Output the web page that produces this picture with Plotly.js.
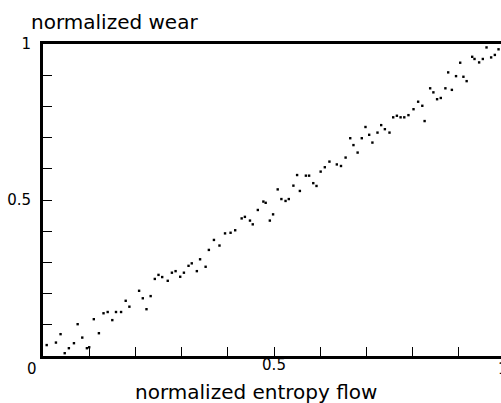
<!DOCTYPE html>
<html>
<head>
<meta charset="utf-8">
<script src="https://cdn.plot.ly/plotly-3.0.1.min.js"></script>
<style>html,body{margin:0;padding:0;background:#fff;}</style>
</head>
<body>
<div id="chart" style="width:501px;height:403px;"></div>
<script>
const entropyFlow = [0.008,0.028,0.038,0.047,0.056,0.067,0.075,0.085,0.095,0.100,0.110,0.121,0.131,0.140,0.150,0.158,0.169,0.179,0.187,0.208,0.216,0.224,0.233,0.242,0.250,0.258,0.270,0.279,0.287,0.297,0.305,0.315,0.322,0.333,0.340,0.352,0.359,0.370,0.382,0.394,0.406,0.416,0.430,0.437,0.448,0.454,0.465,0.477,0.482,0.491,0.498,0.508,0.516,0.525,0.532,0.542,0.550,0.556,0.569,0.576,0.585,0.592,0.601,0.610,0.620,0.636,0.645,0.655,0.665,0.672,0.681,0.690,0.698,0.706,0.713,0.724,0.732,0.740,0.750,0.758,0.766,0.774,0.782,0.791,0.802,0.812,0.821,0.826,0.838,0.845,0.853,0.861,0.871,0.877,0.885,0.894,0.903,0.910,0.917,0.929,0.934,0.944,0.952,0.960,0.970,0.978,0.986];
const wear = [0.035,0.043,0.070,0.009,0.025,0.041,0.102,0.059,0.025,0.028,0.118,0.073,0.137,0.141,0.115,0.141,0.141,0.177,0.158,0.209,0.185,0.150,0.192,0.247,0.260,0.253,0.241,0.267,0.272,0.254,0.267,0.289,0.297,0.272,0.310,0.286,0.340,0.372,0.354,0.393,0.395,0.403,0.441,0.446,0.434,0.422,0.468,0.495,0.491,0.434,0.454,0.534,0.503,0.497,0.503,0.546,0.580,0.529,0.578,0.578,0.554,0.545,0.591,0.605,0.623,0.614,0.609,0.636,0.698,0.676,0.652,0.698,0.734,0.709,0.684,0.716,0.740,0.727,0.716,0.765,0.770,0.765,0.765,0.772,0.791,0.815,0.802,0.753,0.858,0.845,0.823,0.827,0.858,0.909,0.853,0.897,0.940,0.895,0.881,0.959,0.952,0.941,0.952,0.989,0.957,0.965,0.983];

const tickPositions = [0,0.1,0.2,0.3,0.4,0.5,0.6,0.7,0.8,0.9,1];
const xTickText = ['','','','','','0.5','','','','',''];
const yTickText = ['','','','','','0.5','','','','','1'];
const xTitle = 'normalized entropy flow';
const yTitle = 'normalized wear';
const cornerLabels = ['0','1'];

const W = 501, H = 403, L = 43, T = 44, B = 47;
const plotW = W - L, plotH = H - T - B;
const xMaxPx = 462; // pixel length of 0..1 in x
const px2x = p => (p - L) / plotW;
const py2y = p => (H - B - p) / plotH;

const trace = {
  x: entropyFlow, y: wear, type: 'scatter', mode: 'markers',
  marker: {symbol: 'square', size: 2.4, color: '#000', line: {width: 0}},
  hoverinfo: 'none'
};

const tickFont = {family: 'DejaVu Sans, sans-serif', size: 15, color: '#000'};
const titleFont = {family: 'DejaVu Sans, sans-serif', size: 20, color: '#000'};

const layout = {
  width: W, height: H,
  margin: {l: L, r: 0, t: T, b: B, pad: 0},
  paper_bgcolor: '#fff', plot_bgcolor: '#fff',
  showlegend: false,
  xaxis: {
    range: [0, plotW / xMaxPx], showgrid: false, zeroline: false,
    showline: true, linewidth: 3, linecolor: '#000', mirror: true,
    ticks: 'inside', ticklen: 9, tickwidth: 1, tickcolor: '#000',
    tickmode: 'array', tickvals: tickPositions, ticktext: xTickText,
    tickfont: tickFont, ticklabelstandoff: -7, fixedrange: true
  },
  yaxis: {
    range: [0, 1], showgrid: false, zeroline: false,
    showline: true, linewidth: 3, linecolor: '#000', mirror: false,
    ticks: 'inside', ticklen: 9, tickwidth: 1, tickcolor: '#000',
    tickmode: 'array', tickvals: tickPositions, ticktext: yTickText,
    tickfont: tickFont, ticklabelstandoff: 6, fixedrange: true
  },
  annotations: [
    {text: yTitle, xref: 'paper', yref: 'paper', x: px2x(29), y: py2y(22),
     xanchor: 'left', yanchor: 'middle', showarrow: false, font: titleFont},
    {text: xTitle, xref: 'paper', yref: 'paper', x: px2x(255.5), y: py2y(392),
     xanchor: 'center', yanchor: 'middle', showarrow: false, font: titleFont},
    {text: cornerLabels[0], xref: 'paper', yref: 'paper', x: px2x(32), y: py2y(369),
     xanchor: 'center', yanchor: 'middle', showarrow: false, font: tickFont},
    {text: cornerLabels[1], xref: 'paper', yref: 'paper', x: px2x(503), y: py2y(369),
     xanchor: 'center', yanchor: 'middle', showarrow: false, font: tickFont}
  ]
};

Plotly.newPlot('chart', [trace], layout, {staticPlot: true, displayModeBar: false});
</script>
</body>
</html>
